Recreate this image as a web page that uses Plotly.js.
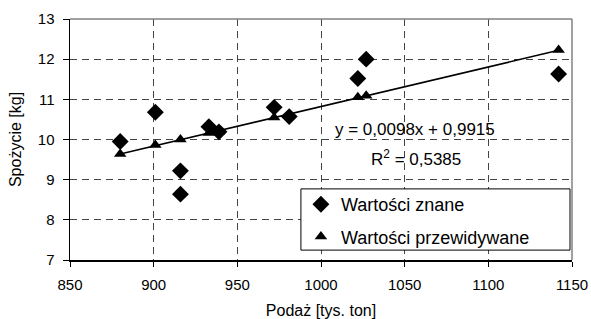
<!DOCTYPE html>
<html>
<head>
<meta charset="utf-8">
<script src="https://cdn.plot.ly/plotly-3.0.1.min.js"></script>
<style>html,body{margin:0;padding:0;background:#fff;}#chart{width:591px;height:319px;}</style>
</head>
<body>
<div id="chart"></div>
<script>
// Known values (Wartości znane)
const knownX = [880, 901, 916, 916, 933, 939, 972, 981, 1022, 1027, 1142];
const knownY = [9.95, 10.68, 9.22, 8.64, 10.32, 10.19, 10.80, 10.57, 11.52, 12.00, 11.63];
// Predicted values (Wartości przewidywane)
const predX = [880, 901, 916, 933, 939, 972, 981, 1022, 1027, 1142];
const predY = [9.64, 9.86, 10.00, 10.16, 10.19, 10.55, 10.60, 11.05, 11.09, 12.23];
// Linear trend line endpoints
const trendX = [880, 1142];
const trendY = [9.64, 12.22];
const xTicks = [850, 900, 950, 1000, 1050, 1100, 1150];
const yTicks = [7, 8, 9, 10, 11, 12, 13];
const eqText = "y = 0,0098x + 0,9915";
const r2Text = "R<sup>2</sup> = 0,5385";

const font = "Arial, 'Liberation Sans', sans-serif";

const traces = [
  {x: trendX, y: trendY, type: 'scatter', mode: 'lines', line: {color: '#000', width: 1.6}, showlegend: false, hoverinfo: 'skip'},
  {x: predX, y: predY, type: 'scatter', mode: 'markers', name: 'Wartości przewidywane',
   marker: {symbol: 'triangle-up', size: 11, color: '#000'}, legendgroup: 'b', legendrank: 2},
  {x: knownX, y: knownY, type: 'scatter', mode: 'markers', name: 'Wartości znane',
   marker: {symbol: 'diamond', size: 13, color: '#000'}, legendgroup: 'a', legendrank: 1}
];

const layout = {
  width: 591, height: 319,
  margin: {l: 70, r: 19, t: 19, b: 59},
  paper_bgcolor: '#fff', plot_bgcolor: '#fff',
  font: {family: font, color: '#000', size: 15},
  showlegend: true,
  legend: {
    x: 0.46, y: 0.307, xanchor: 'left', yanchor: 'top',
    bgcolor: 'rgba(0,0,0,0)', borderwidth: 0,
    font: {family: font, size: 18, color: '#000'},
    traceorder: 'grouped', tracegroupgap: 6,
    itemwidth: 30
  },
  xaxis: {
    range: [850, 1150], tickvals: xTicks, ticktext: xTicks.map(String),
    showgrid: true, gridcolor: '#444', griddash: '7px,5px', gridwidth: 1,
    showline: true, linecolor: '#000', linewidth: 1.5,
    ticks: 'outside', ticklen: 5, tickcolor: '#000',
    zeroline: false, tickfont: {size: 15}, ticklabelstandoff: 5,
    title: {text: 'Podaż [tys. ton]', font: {size: 16}, standoff: 13}
  },
  yaxis: {
    range: [7, 13], tickvals: yTicks, ticktext: yTicks.map(String),
    showgrid: true, gridcolor: '#444', griddash: '7px,5px', gridwidth: 1,
    showline: true, linecolor: '#000', linewidth: 1.5,
    ticks: 'outside', ticklen: 6, tickcolor: '#000',
    zeroline: false, tickfont: {size: 15}, ticklabelstandoff: 5,
    title: {text: 'Spożycie [kg]', font: {size: 16}, standoff: 12}
  },
  shapes: [
    {type: 'line', xref: 'paper', yref: 'paper', x0: 0, x1: 1, y0: 1, y1: 1, line: {color: '#808080', width: 1.5}},
    {type: 'line', xref: 'paper', yref: 'paper', x0: 1, x1: 1, y0: 0, y1: 1, line: {color: '#808080', width: 1.5}},
    {type: 'rect', xref: 'paper', yref: 'paper', x0: 0.46, x1: 0.996, y0: 0.041, y1: 0.295,
     fillcolor: '#fff', line: {color: '#000', width: 1}, layer: 'above'}
  ],
  annotations: [
    {x: 1056, y: 10.24, xref: 'x', yref: 'y', text: eqText, showarrow: false, font: {size: 17}},
    {x: 1057, y: 9.54, xref: 'x', yref: 'y', text: r2Text, showarrow: false, font: {size: 17}}
  ]
};

Plotly.newPlot('chart', traces, layout, {displayModeBar: false, staticPlot: true});
</script>
</body>
</html>
